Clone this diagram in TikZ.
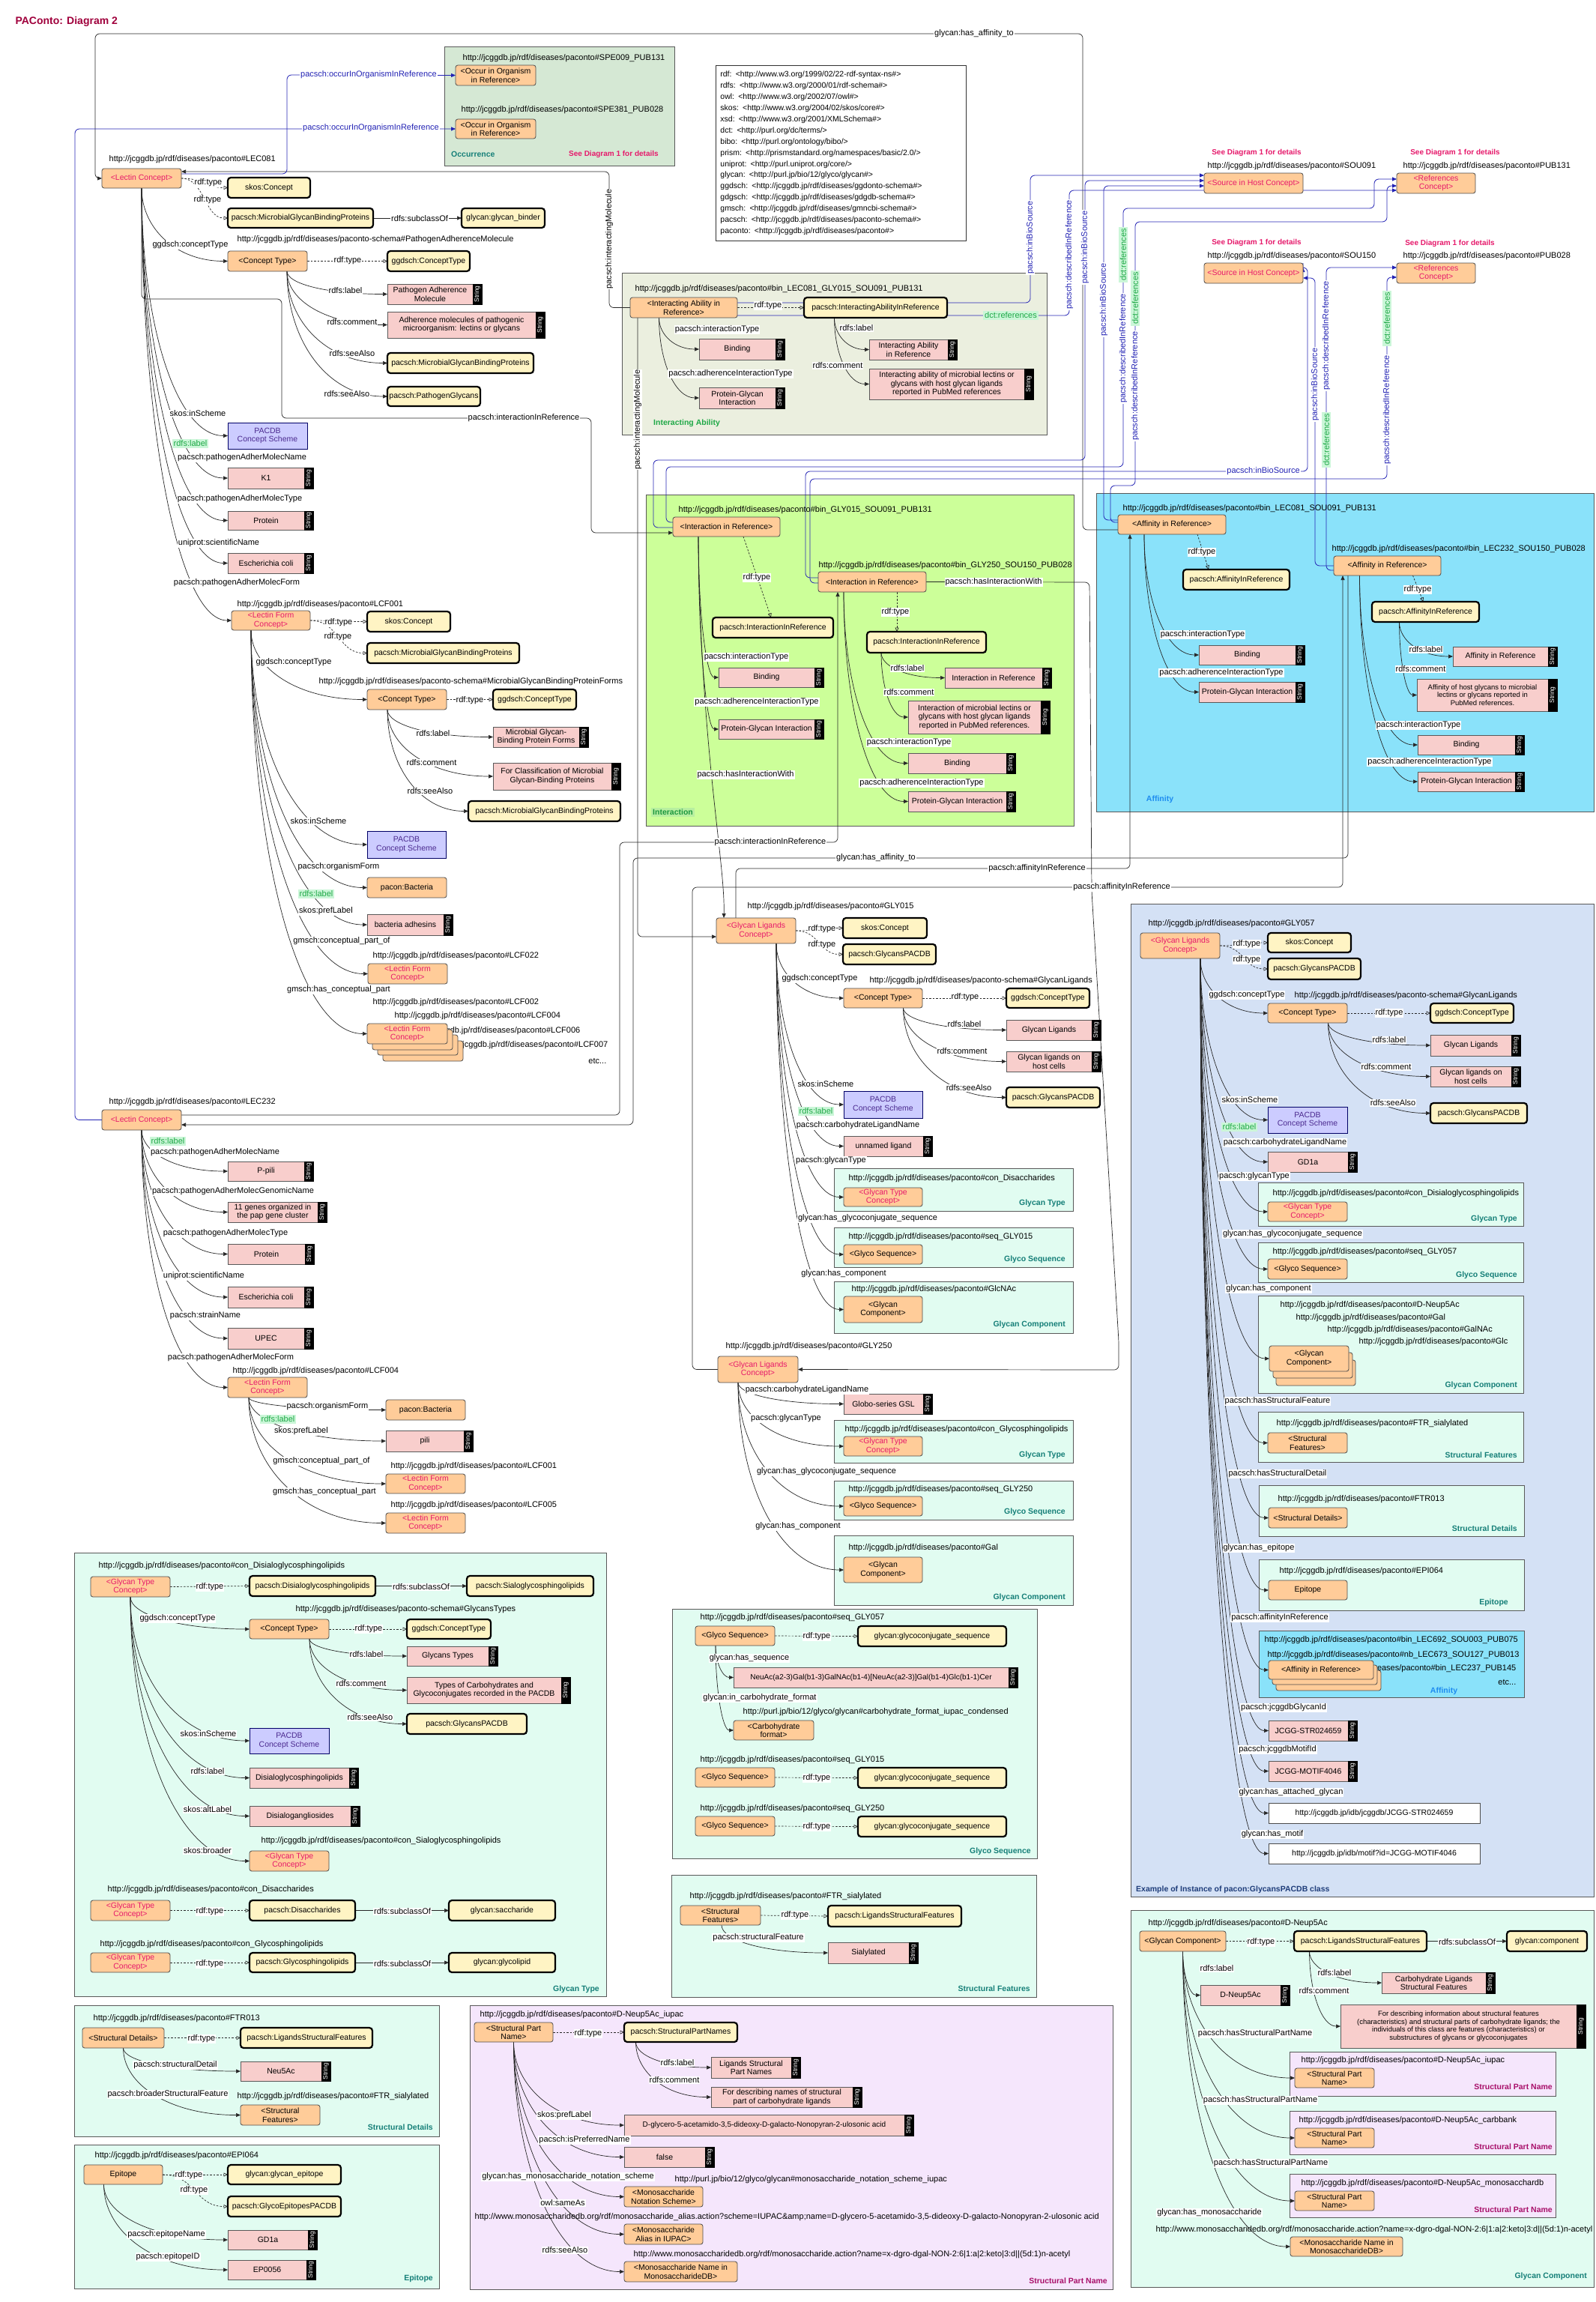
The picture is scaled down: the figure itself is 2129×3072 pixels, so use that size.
\documentclass[tikz,border=0pt]{standalone}
\usepackage{fontspec}
\setmainfont{Liberation Sans}
\usepackage{graphicx}
\usetikzlibrary{arrows.meta,calc}
\definecolor{orng}{HTML}{FFCC99}
\definecolor{ylw}{HTML}{FFF4C4}
\definecolor{pnk}{HTML}{F8CECC}
\definecolor{lav}{HTML}{CCCCFF}
\definecolor{schtxt}{HTML}{4B2A8F}
\definecolor{mint}{HTML}{E1FCF1}
\definecolor{occg}{HTML}{D5E8D4}
\definecolor{iag}{HTML}{EBEFDF}
\definecolor{intg}{HTML}{CCFF99}
\definecolor{inthl}{HTML}{B8EFA0}
\definecolor{affc}{HTML}{8AE2FA}
\definecolor{exb}{HTML}{D4E1F5}
\definecolor{spnc}{HTML}{F5E6FC}
\definecolor{crim}{HTML}{E6196B}
\definecolor{tealc}{HTML}{157F78}
\definecolor{bluel}{HTML}{2222B4}
\definecolor{grn}{HTML}{1EA846}
\definecolor{gfill}{HTML}{CBF6D8}
\definecolor{ttl}{HTML}{A0003C}
\definecolor{affl}{HTML}{1E8CF0}
\definecolor{exl}{HTML}{1F3D7A}
\definecolor{spnl}{HTML}{A8106A}
\pgfdeclarelayer{bg}
\pgfdeclarelayer{edges}
\pgfsetlayers{bg,edges,main}
\tikzset{
 bse/.style={font=\fontsize{10.5}{11.5}\selectfont, inner sep=0.5pt, align=center, outer sep=0pt},
 onode/.style={bse, draw=black!70, fill=orng, rounded corners=3pt, line width=0.8pt},
 onoder/.style={onode, text=crim},
 cls/.style={bse, draw=black, fill=ylw, rounded corners=4pt, line width=2.2pt},
 litb/.style={bse, draw=black!65, fill=pnk, line width=0.6pt},
 tabb/.style={draw=black, fill=black, text=white, inner sep=0pt, font=\fontsize{8.5}{9}\selectfont, line width=0.6pt},
 sch/.style={bse, draw=black!60!blue, fill=lav, text=schtxt, line width=0.8pt},
 wbox/.style={bse, draw=black!70, fill=white, line width=0.8pt},
 sm/.style={font=\fontsize{9.5}{10.5}\selectfont},
 reg/.style={draw=black!65, line width=0.9pt, inner sep=0pt},
 txt/.style={font=\fontsize{11}{12}\selectfont, inner sep=0.5pt},
 elab/.style={font=\fontsize{11}{12}\selectfont, fill=white, inner sep=1pt},
 glab/.style={fill=gfill, text=grn, inner sep=2pt},
 blab/.style={text=bluel},
 rlab/.style={font=\fontsize{10.5}{12}\selectfont\bfseries, inner sep=0pt},
 sdl/.style={font=\fontsize{10}{12}\selectfont\bfseries, inner sep=0pt, text=crim},
 edg/.style={draw=black!85, line width=0.7pt, -{Triangle[length=6pt,width=5pt]}},
 dsh/.style={draw=black!85, line width=0.7pt, dash pattern=on 2.5pt off 2pt, -{Triangle[open,length=5.5pt,width=5pt]}},
 bed/.style={draw=bluel, line width=0.8pt, rounded corners=6pt, -{Triangle[length=6pt,width=5pt]}},
 red/.style={edg, rounded corners=6pt},
}
\newcounter{lc}
\newcommand{\mybx}[7]{\node[#1,minimum width={(#5)-(#3)},minimum height={(#6)-(#4)}] (#2) at ({((#3)+(#5))/2},{((#4)+(#6))/2}) {#7};}
\newcommand{\mylit}[7][]{\mybx{litb,#1}{#2}{#3}{#4}{(#5)-12}{#6}{#7}\mybx{tabb}{#2t}{(#5)-12}{#4}{#5}{#6}{\rotatebox{90}{String}}}
\newcommand{\myurl}[3]{\stepcounter{lc}\node[txt,anchor=west] (url\arabic{lc}) at (#1,#2) {#3};}
\newcommand{\myurle}[3]{\stepcounter{lc}\node[txt,anchor=east] (url\arabic{lc}) at (#1,#2) {#3};}
\newcommand{\myel}[4][]{\stepcounter{lc}\node[elab,#1] (lab\arabic{lc}) at (#2,#3) {#4};}
\newcommand{\mytre}[3][]{\draw[edg,#1] let \p1=(#2), \p2=(#3) in (\p1) .. controls (\x1,{\y1+0.55*(\y2-(\y1))}) and ({\x2-0.6*(\x2-(\x1))},\y2) .. (\p2);}
\newcommand{\myscu}[3][]{\draw[dsh,#1] let \p1=(#2), \p2=(#3) in (\p1) .. controls ({\x1+0.5*(\x2-(\x1))},\y1) and ({\x1+0.5*(\x2-(\x1))},\y2) .. (\p2);}
\begin{document}
\begin{tikzpicture}[x=1pt,y=-1pt]
\useasboundingbox (0,0) rectangle (2129,3072);
\begin{pgfonlayer}{bg}
\fill[white] (0,0) rectangle (2129,3072);
\mybx{reg,fill=occg}{occbox}{593}{62}{900}{221}{}
\mybx{reg,fill=iag}{iabox}{830}{364}{1397}{580}{}
\mybx{reg,fill=intg}{intbox}{862}{660}{1433}{1102}{}
\mybx{reg,fill=affc}{affbox}{1463}{658}{2127}{1083}{}
\mybx{reg,fill=mint}{gtbox1}{1113}{1559}{1432}{1616}{}
\mybx{reg,fill=mint}{gsbox1}{1113}{1638}{1432}{1691}{}
\mybx{reg,fill=mint}{gcbox1}{1113}{1710}{1432}{1779}{}
\mybx{reg,fill=mint}{gtbox2}{1113}{1895}{1432}{1952}{}
\mybx{reg,fill=mint}{gsbox2}{1113}{1976}{1432}{2028}{}
\mybx{reg,fill=mint}{gcbox2}{1113}{2049}{1432}{2142}{}
\mybx{reg,fill=exb}{exbox}{1509}{1206}{2127}{2531}{}
\mybx{reg,fill=mint}{gtbox3}{1679}{1578}{2033}{1636}{}
\mybx{reg,fill=mint}{gsbox3}{1679}{1658}{2033}{1711}{}
\mybx{reg,fill=mint}{gcbox3}{1679}{1729}{2033}{1859}{}
\mybx{reg,fill=mint}{sfbox}{1679}{1884}{2033}{1951}{}
\mybx{reg,fill=mint}{sdbox}{1680}{1982}{2034}{2050}{}
\mybx{reg,fill=mint}{epbox}{1680}{2081}{2034}{2149}{}
\mybx{reg,fill=affc}{afbox}{1680}{2176}{2034}{2265}{}
\mybx{reg,fill=mint}{gcbig}{1509}{2549}{2127}{3052}{}
\mybx{reg,fill=spnc}{spnbox1}{1721}{2738}{2076}{2797}{}
\mybx{reg,fill=spnc}{spnbox2}{1721}{2817}{2076}{2875}{}
\mybx{reg,fill=spnc}{spnbox3}{1721}{2901}{2076}{2959}{}
\mybx{reg,fill=mint}{gtbig}{99}{2072}{809}{2664}{}
\mybx{reg,fill=mint}{sdbig}{99}{2676}{586}{2851}{}
\mybx{reg,fill=mint}{epbig}{99}{2862}{586}{3054}{}
\mybx{reg,fill=spnc}{spnbig}{627}{2676}{1485}{3055}{}
\mybx{reg,fill=mint}{gsbig}{897}{2147}{1384}{2480}{}
\mybx{reg,fill=mint}{sfbig}{896}{2502}{1383}{2665}{}
\end{pgfonlayer}

% ---------- title
\node[font=\fontsize{14}{16}\selectfont\bfseries, text=ttl, anchor=west] (title) at (17,29) {PAConto: Diagram 2};

% ---------- occurrence
\myurl{617}{78}{http://jcggdb.jp/rdf/diseases/paconto\#SPE009\_PUB131}
\mybx{onode}{occ1}{608}{87}{715}{114}{<Occur in Organism\\in Reference>}
\myurl{615}{147}{http://jcggdb.jp/rdf/diseases/paconto\#SPE381\_PUB028}
\mybx{onode}{occ2}{608}{159}{715}{185}{<Occur in Organism\\in Reference>}
\node[rlab,text=tealc,anchor=west] (occl) at (602,206) {Occurrence};
\node[sdl,anchor=west] (occs) at (759,206) {See Diagram 1 for details};

% ---------- namespaces
\node[draw=black!80, fill=white, line width=0.8pt, anchor=north west, align=left, font=\fontsize{10.5}{14.9}\selectfont, inner xsep=6pt, inner ysep=5pt, text width=322pt, minimum height=234pt] (ns) at (955,87) {rdf: <http://www.w3.org/1999/02/22-rdf-syntax-ns\#>\\
rdfs: <http://www.w3.org/2000/01/rdf-schema\#>\\
owl: <http://www.w3.org/2002/07/owl\#>\\
skos: <http://www.w3.org/2004/02/skos/core\#>\\
xsd: <http://www.w3.org/2001/XMLSchema\#>\\
dct: <http://purl.org/dc/terms/>\\
bibo: <http://purl.org/ontology/bibo/>\\
prism: <http://prismstandard.org/namespaces/basic/2.0/>\\
uniprot: <http://purl.uniprot.org/core/>\\
glycan: <http://purl.jp/bio/12/glyco/glycan\#>\\
ggdsch: <http://jcggdb.jp/rdf/diseases/ggdonto-schema\#>\\
gdgsch: <http://jcggdb.jp/rdf/diseases/gdgdb-schema\#>\\
gmsch: <http://jcggdb.jp/rdf/diseases/gmncbi-schema\#>\\
pacsch: <http://jcggdb.jp/rdf/diseases/paconto-schema\#>\\
paconto: <http://jcggdb.jp/rdf/diseases/paconto\#>};

% ---------- sources / references
\node[sdl] (sd1) at (1677,204) {See Diagram 1 for details};
\myurl{1611}{222}{http://jcggdb.jp/rdf/diseases/paconto\#SOU091}
\mybx{onoder}{src1}{1607}{231}{1739}{258}{<Source in Host Concept>}
\node[sdl] (sd2) at (1942,204) {See Diagram 1 for details};
\myurl{1872}{222}{http://jcggdb.jp/rdf/diseases/paconto\#PUB131}
\mybx{onoder}{ref1}{1864}{231}{1969}{258}{<References\\Concept>}
\node[sdl] (sd3) at (1677,324) {See Diagram 1 for details};
\myurl{1611}{342}{http://jcggdb.jp/rdf/diseases/paconto\#SOU150}
\mybx{onoder}{src2}{1607}{351}{1739}{378}{<Source in Host Concept>}
\node[sdl] (sd4) at (1935,325) {See Diagram 1 for details};
\myurl{1872}{342}{http://jcggdb.jp/rdf/diseases/paconto\#PUB028}
\mybx{onoder}{ref2}{1864}{351}{1969}{378}{<References\\Concept>}

% ---------- LEC081
\myurl{145}{213}{http://jcggdb.jp/rdf/diseases/paconto\#LEC081}
\mybx{onoder}{lec81}{136}{225}{242}{251}{<Lectin Concept>}
\mybx{cls}{sk1}{304}{237}{414}{264}{skos:Concept}
\mybx{cls}{mgbp1}{304}{278}{498}{304}{pacsch:MicrobialGlycanBindingProteins}
\mybx{cls}{gb}{616}{278}{727}{304}{glycan:glycan\_binder}
\myurl{316}{320}{http://jcggdb.jp/rdf/diseases/paconto-schema\#PathogenAdherenceMolecule}
\mybx{onode}{ct1}{304}{335}{410}{362}{<Concept Type>}
\mybx{cls}{cct1}{517}{335}{627}{362}{ggdsch:ConceptType}
\mylit{pam}{517}{379}{643}{406}{Pathogen Adherence\\Molecule}
\mylit{adm}{517}{416}{727}{451}{Adherence molecules of pathogenic\\microorganism: lectins or glycans}
\mybx{cls}{sa1}{517}{471}{712}{498}{pacsch:MicrobialGlycanBindingProteins}
\mybx{cls}{sa2}{517}{516}{641}{542}{pacsch:PathogenGlycans}
\mybx{sch}{ps1}{304}{564}{410}{599}{PACDB\\Concept Scheme}
\mylit{k1}{304}{624}{418}{652}{K1}
\mylit{prot1}{304}{682}{418}{707}{Protein}
\mylit{ec1}{304}{738}{418}{765}{Escherichia coli}
\myurl{316}{807}{http://jcggdb.jp/rdf/diseases/paconto\#LCF001}
\mybx{onoder}{lcf1}{309}{815}{414}{841}{<Lectin Form\\Concept>}
\mybx{cls}{sk2}{490}{816}{601}{843}{skos:Concept}
\mybx{cls}{mgbp2}{490}{858}{693}{885}{pacsch:MicrobialGlycanBindingProteins}
\myurl{425}{910}{http://jcggdb.jp/rdf/diseases/paconto-schema\#MicrobialGlycanBindingProteinForms}
\mybx{onode}{ct2}{490}{920}{596}{947}{<Concept Type>}
\mybx{cls}{cct2}{658}{920}{769}{947}{ggdsch:ConceptType}
\mylit{mgf}{658}{970}{785}{997}{Microbial Glycan-\\Binding Protein Forms}
\mylit{fcm}{658}{1018}{828}{1054}{For Classification of Microbial\\Glycan-Binding Proteins}
\mybx{cls}{sa3}{625}{1069}{828}{1096}{pacsch:MicrobialGlycanBindingProteins}
\mybx{sch}{ps2}{490}{1109}{595}{1145}{PACDB\\Concept Scheme}
\mybx{onode}{bac1}{490}{1171}{596}{1198}{pacon:Bacteria}
\mylit{ba}{490}{1220}{604}{1248}{bacteria adhesins}
\myurl{497}{1276}{http://jcggdb.jp/rdf/diseases/paconto\#LCF022}
\mybx{onoder}{lcf22}{491}{1286}{597}{1313}{<Lectin Form\\Concept>}
\myurl{497}{1338}{http://jcggdb.jp/rdf/diseases/paconto\#LCF002}
\myurl{526}{1356}{http://jcggdb.jp/rdf/diseases/paconto\#LCF004}
\myurle{775}{1376}{http://jcggdb.jp/rdf/diseases/paconto\#LCF006}
\myurle{812}{1395}{http://jcggdb.jp/rdf/diseases/paconto\#LCF007}
\myurle{810}{1416}{etc...}
\mybx{onoder}{lcfsb3}{511}{1389}{618}{1416}{}
\mybx{onoder}{lcfsb2}{504}{1381}{611}{1408}{}
\mybx{onoder}{lcfsb1}{497}{1374}{604}{1401}{}
\mybx{onoder}{lcfs}{490}{1366}{597}{1393}{<Lectin Form\\Concept>}

% ---------- LEC232
\myurl{145}{1471}{http://jcggdb.jp/rdf/diseases/paconto\#LEC232}
\mybx{onoder}{lec232}{136}{1481}{242}{1508}{<Lectin Concept>}
\mylit{pp}{304}{1550}{418}{1576}{P-pili}
\mylit{g11}{304}{1604}{436}{1631}{11 genes organized in\\the pap gene cluster}
\mylit{prot2}{304}{1660}{419}{1687}{Protein}
\mylit{ec2}{304}{1717}{418}{1745}{Escherichia coli}
\mylit{upec}{304}{1772}{418}{1800}{UPEC}
\myurl{310}{1830}{http://jcggdb.jp/rdf/diseases/paconto\#LCF004}
\mybx{onoder}{lcf4}{304}{1838}{410}{1865}{<Lectin Form\\Concept>}
\mybx{onode}{bac2}{515}{1868}{621}{1895}{pacon:Bacteria}
\mylit{pili}{515}{1909}{631}{1937}{pili}
\myurl{521}{1957}{http://jcggdb.jp/rdf/diseases/paconto\#LCF001}
\mybx{onoder}{lcf1b}{515}{1967}{621}{1993}{<Lectin Form\\Concept>}
\myurl{521}{2009}{http://jcggdb.jp/rdf/diseases/paconto\#LCF005}
\mybx{onoder}{lcf5}{515}{2019}{621}{2046}{<Lectin Form\\Concept>}

% ---------- Interacting ability
\myurl{847}{386}{http://jcggdb.jp/rdf/diseases/paconto\#bin\_LEC081\_GLY015\_SOU091\_PUB131}
\mybx{onode}{ia}{841}{397}{984}{424}{<Interacting Ability in\\Reference>}
\mybx{cls}{iaref}{1073}{397}{1264}{424}{pacsch:InteractingAbilityInReference}
\mylit{bind1}{933}{452}{1047}{480}{Binding}
\mylit{pg1}{933}{517}{1047}{545}{Protein-Glycan\\Interaction}
\mylit{iat1}{1160}{453}{1277}{480}{Interacting Ability\\in Reference}
\mylit{iac}{1160}{492}{1379}{533}{Interacting ability of microbial lectins or\\glycans with host glycan ligands\\reported in PubMed references}
\node[rlab,text=grn,anchor=west] (ial) at (872,565) {Interacting Ability};

% ---------- Interaction
\myurl{905}{681}{http://jcggdb.jp/rdf/diseases/paconto\#bin\_GLY015\_SOU091\_PUB131}
\mybx{onode}{int1}{898}{690}{1041}{716}{<Interaction in Reference>}
\mybx{cls}{iir1}{951}{824}{1112}{851}{pacsch:InteractionInReference}
\mylit{bind2}{959}{891}{1099}{917}{Binding}
\mylit{pg2}{959}{960}{1099}{986}{Protein-Glycan Interaction}
\myurl{1092}{755}{http://jcggdb.jp/rdf/diseases/paconto\#bin\_GLY250\_SOU150\_PUB028}
\mybx{onode}{int2}{1092}{763}{1236}{790}{<Interaction in Reference>}
\mybx{cls}{iir2}{1157}{843}{1316}{871}{pacsch:InteractionInReference}
\mylit{int3}{1261}{891}{1403}{918}{Interaction in Reference}
\mylit{intc}{1212}{935}{1401}{979}{Interaction of microbial lectins or\\glycans with host glycan ligands\\reported in PubMed references.}
\mylit{bind3}{1212}{1005}{1355}{1032}{Binding}
\mylit{pg3}{1212}{1056}{1355}{1083}{Protein-Glycan Interaction}
\node[rlab,text=grn!90!black,anchor=west,fill=inthl,inner sep=2pt] (intl) at (869,1084) {Interaction};

% ---------- Affinity
\myurl{1498}{679}{http://jcggdb.jp/rdf/diseases/paconto\#bin\_LEC081\_SOU091\_PUB131}
\mybx{onode}{aff1}{1492}{687}{1636}{713}{<Affinity in Reference>}
\mybx{cls}{air1}{1579}{760}{1721}{787}{pacsch:AffinityInReference}
\mylit{bind4}{1600}{861}{1741}{887}{Binding}
\mylit{pg4}{1600}{910}{1741}{937}{Protein-Glycan Interaction}
\myurl{1777}{733}{http://jcggdb.jp/rdf/diseases/paconto\#bin\_LEC232\_SOU150\_PUB028}
\mybx{onode}{aff2}{1780}{742}{1923}{768}{<Affinity in Reference>}
\mybx{cls}{air2}{1831}{803}{1974}{830}{pacsch:AffinityInReference}
\mylit{air3}{1939}{863}{2078}{889}{Affinity in Reference}
\mylit[sm]{airc}{1891}{906}{2078}{949}{Affinity of host glycans to microbial\\lectins or glycans reported in\\PubMed references.}
\mylit{bind5}{1892}{981}{2034}{1007}{Binding}
\mylit{pg5}{1892}{1030}{2034}{1056}{Protein-Glycan Interaction}
\node[rlab,text=affl] (affl) at (1548,1067) {Affinity};

% ---------- GLY015
\myurl{997}{1210}{http://jcggdb.jp/rdf/diseases/paconto\#GLY015}
\mybx{onoder}{gly15}{956}{1225}{1062}{1259}{<Glycan Ligands\\Concept>}
\mybx{cls}{sk3}{1125}{1225}{1237}{1252}{skos:Concept}
\mybx{cls}{gp1}{1125}{1260}{1249}{1287}{pacsch:GlycansPACDB}
\myurl{1160}{1309}{http://jcggdb.jp/rdf/diseases/paconto-schema\#GlycanLigands}
\mybx{onode}{ct3}{1126}{1319}{1231}{1345}{<Concept Type>}
\mybx{cls}{cct3}{1343}{1319}{1454}{1345}{ggdsch:ConceptType}
\mylit{gl1}{1343}{1361}{1469}{1388}{Glycan Ligands}
\mylit{gl2}{1343}{1403}{1469}{1430}{Glycan ligands on\\host cells}
\mybx{cls}{gp2}{1343}{1451}{1468}{1478}{pacsch:GlycansPACDB}
\mybx{sch}{ps3}{1126}{1456}{1231}{1492}{PACDB\\Concept Scheme}
\mylit{ul}{1126}{1516}{1244}{1543}{unnamed ligand}
\myurl{1132}{1573}{http://jcggdb.jp/rdf/diseases/paconto\#con\_Disaccharides}
\mybx{onoder}{gt1}{1126}{1585}{1231}{1610}{<Glycan Type\\Concept>}
\node[rlab,text=tealc,anchor=east] (gtl1) at (1422,1606) {Glycan Type};
\myurl{1132}{1651}{http://jcggdb.jp/rdf/diseases/paconto\#seq\_GLY015}
\mybx{onode}{gs1}{1126}{1661}{1231}{1687}{<Glyco Sequence>}
\node[rlab,text=tealc,anchor=east] (gsl1) at (1422,1681) {Glyco Sequence};
\myurl{1136}{1721}{http://jcggdb.jp/rdf/diseases/paconto\#GlcNAc}
\mybx{onode}{gc1}{1126}{1730}{1231}{1765}{<Glycan\\Component>}
\node[rlab,text=tealc,anchor=east] (gcl1) at (1422,1768) {Glycan Component};

% ---------- GLY250
\myurl{968}{1797}{http://jcggdb.jp/rdf/diseases/paconto\#GLY250}
\mybx{onoder}{gly250}{958}{1810}{1065}{1845}{<Glycan Ligands\\Concept>}
\mylit{ggsl}{1126}{1860}{1244}{1887}{Globo-series GSL}
\myurl{1127}{1908}{http://jcggdb.jp/rdf/diseases/paconto\#con\_Glycosphingolipids}
\mybx{onoder}{gt2}{1126}{1917}{1231}{1943}{<Glycan Type\\Concept>}
\node[rlab,text=tealc,anchor=east] (gtl2) at (1422,1942) {Glycan Type};
\myurl{1132}{1988}{http://jcggdb.jp/rdf/diseases/paconto\#seq\_GLY250}
\mybx{onode}{gs2}{1126}{1997}{1231}{2023}{<Glyco Sequence>}
\node[rlab,text=tealc,anchor=east] (gsl2) at (1422,2018) {Glyco Sequence};
\myurl{1132}{2066}{http://jcggdb.jp/rdf/diseases/paconto\#Gal}
\mybx{onode}{gc2}{1126}{2078}{1231}{2112}{<Glycan\\Component>}
\node[rlab,text=tealc,anchor=east] (gcl2) at (1422,2132) {Glycan Component};

% ---------- GLY057 example
\myurl{1532}{1233}{http://jcggdb.jp/rdf/diseases/paconto\#GLY057}
\mybx{onoder}{gly57}{1522}{1245}{1628}{1279}{<Glycan Ligands\\Concept>}
\mybx{cls}{sk4}{1692}{1245}{1803}{1271}{skos:Concept}
\mybx{cls}{gp3}{1692}{1279}{1816}{1307}{pacsch:GlycansPACDB}
\myurl{1727}{1329}{http://jcggdb.jp/rdf/diseases/paconto-schema\#GlycanLigands}
\mybx{onode}{ct4}{1692}{1339}{1798}{1365}{<Concept Type>}
\mybx{cls}{cct4}{1909}{1339}{2020}{1365}{ggdsch:ConceptType}
\mylit{gl3}{1909}{1381}{2029}{1409}{Glycan Ligands}
\mylit{gl4}{1909}{1423}{2029}{1450}{Glycan ligands on\\host cells}
\mybx{cls}{gp4}{1909}{1472}{2038}{1499}{pacsch:GlycansPACDB}
\mybx{sch}{ps4}{1692}{1477}{1798}{1512}{PACDB\\Concept Scheme}
\mylit{gd1}{1692}{1537}{1811}{1564}{GD1a}
\myurl{1698}{1593}{http://jcggdb.jp/rdf/diseases/paconto\#con\_Disialoglycosphingolipids}
\mybx{onoder}{gt3}{1692}{1604}{1798}{1630}{<Glycan Type\\Concept>}
\node[rlab,text=tealc,anchor=east] (gtl3) at (2025,1627) {Glycan Type};
\myurl{1698}{1671}{http://jcggdb.jp/rdf/diseases/paconto\#seq\_GLY057}
\mybx{onode}{gs3}{1692}{1680}{1798}{1707}{<Glyco Sequence>}
\node[rlab,text=tealc,anchor=east] (gsl3) at (2025,1702) {Glyco Sequence};
\myurl{1708}{1742}{http://jcggdb.jp/rdf/diseases/paconto\#D-Neup5Ac}
\myurl{1729}{1759}{http://jcggdb.jp/rdf/diseases/paconto\#Gal}
\myurl{1771}{1775}{http://jcggdb.jp/rdf/diseases/paconto\#GalNAc}
\myurl{1813}{1791}{http://jcggdb.jp/rdf/diseases/paconto\#Glc}
\mybx{onode}{gc3b2}{1703}{1815}{1809}{1849}{}
\mybx{onode}{gc3b1}{1699}{1805}{1805}{1839}{}
\mybx{onode}{gc3}{1694}{1796}{1800}{1830}{<Glycan\\Component>}
\node[rlab,text=tealc,anchor=east] (gcl3) at (2025,1849) {Glycan Component};
\myurl{1703}{1900}{http://jcggdb.jp/rdf/diseases/paconto\#FTR\_sialylated}
\mybx{onode}{sf1}{1692}{1912}{1798}{1939}{<Structural\\Features>}
\node[rlab,text=tealc,anchor=east] (sfl1) at (2025,1942) {Structural Features};
\myurl{1705}{2001}{http://jcggdb.jp/rdf/diseases/paconto\#FTR013}
\mybx{onode}{sd1}{1693}{2012}{1798}{2039}{<Structural Details>}
\node[rlab,text=tealc,anchor=east] (sdl1) at (2025,2040) {Structural Details};
\myurl{1707}{2097}{http://jcggdb.jp/rdf/diseases/paconto\#EPI064}
\mybx{onode}{ep1}{1693}{2109}{1798}{2135}{Epitope}
\node[rlab,text=tealc,anchor=east] (epl1) at (2013,2139) {Epitope};
\myurl{1687}{2189}{http://jcggdb.jp/rdf/diseases/paconto\#bin\_LEC692\_SOU003\_PUB075}
\myurl{1691}{2209}{http://jcggdb.jp/rdf/diseases/paconto\#nb\_LEC673\_SOU127\_PUB013}
\myurle{2024}{2227}{http://jcggdb.jp/rdf/diseases/paconto\#bin\_LEC237\_PUB145}
\myurle{2024}{2245}{etc...}
\mybx{onode}{afb2}{1703}{2229}{1843}{2256}{}
\mybx{onode}{afb1}{1698}{2222}{1838}{2248}{}
\mybx{onode}{af1}{1693}{2216}{1833}{2241}{<Affinity in Reference>}
\node[rlab,text=affl] (afl1) at (1927,2257) {Affinity};
\mylit{jid}{1693}{2296}{1811}{2323}{JCGG-STR024659}
\mylit{mid}{1693}{2350}{1811}{2377}{JCGG-MOTIF4046}
\mybx{wbox}{att}{1693}{2406}{1975}{2433}{http://jcggdb.jp/idb/jcggdb/JCGG-STR024659}
\mybx{wbox}{mot}{1693}{2460}{1975}{2487}{http://jcggdb.jp/idb/motif?id=JCGG-MOTIF4046}
\node[rlab,text=exl,anchor=west] (exl) at (1516,2522) {Example of Instance of pacon:GlycansPACDB class};

% ---------- Glycan component D-Neup5Ac
\myurl{1532}{2567}{http://jcggdb.jp/rdf/diseases/paconto\#D-Neup5Ac}
\mybx{onode}{gc4}{1521}{2577}{1636}{2604}{<Glycan Component>}
\mybx{cls}{lsf1}{1727}{2577}{1904}{2604}{pacsch:LigandsStructuralFeatures}
\mybx{cls}{gcomp}{2011}{2577}{2118}{2604}{glycan:component}
\mylit{dn}{1602}{2649}{1721}{2676}{D-Neup5Ac}
\mylit{csf}{1844}{2632}{1995}{2660}{Carbohydrate Ligands\\Structural Features}
\mylit[sm]{cmt}{1789}{2675}{2116}{2733}{For describing information about structural features\\(characteristics) and structural parts of carbohydrate ligands; the\\individuals of this class are features (characteristics) or\\substructures of glycans or glycoconjugates}
\myurl{1736}{2750}{http://jcggdb.jp/rdf/diseases/paconto\#D-Neup5Ac\_iupac}
\mybx{onode}{spn1}{1728}{2760}{1834}{2786}{<Structural Part\\Name>}
\node[rlab,text=spnl,anchor=east] (spl1) at (2072,2785) {Structural Part Name};
\myurl{1733}{2830}{http://jcggdb.jp/rdf/diseases/paconto\#D-Neup5Ac\_carbbank}
\mybx{onode}{spn2}{1728}{2840}{1834}{2866}{<Structural Part\\Name>}
\node[rlab,text=spnl,anchor=east] (spl2) at (2072,2865) {Structural Part Name};
\myurl{1736}{2914}{http://jcggdb.jp/rdf/diseases/paconto\#D-Neup5Ac\_monosacchardb}
\mybx{onode}{spn3}{1728}{2924}{1834}{2950}{<Structural Part\\Name>}
\node[rlab,text=spnl,anchor=east] (spl3) at (2072,2949) {Structural Part Name};
\myurl{1542}{2976}{http://www.monosaccharidedb.org/rdf/monosaccharide.action?name=x-dgro-dgal-NON-2:6|1:a|2:keto|3:d||(5d:1)n-acetyl}
\mybx{onode}{mdb}{1722}{2985}{1872}{3011}{<Monosaccharide Name in\\MonosaccharideDB>}
\node[rlab,text=tealc,anchor=east] (gcl4) at (2118,3038) {Glycan Component};

% ---------- Glycan type big
\myurl{131}{2090}{http://jcggdb.jp/rdf/diseases/paconto\#con\_Disialoglycosphingolipids}
\mybx{onoder}{gt4}{121}{2104}{227}{2131}{<Glycan Type\\Concept>}
\mybx{cls}{dsp}{333}{2103}{501}{2130}{pacsch:Disialoglycosphingolipids}
\mybx{cls}{ssp}{623}{2103}{792}{2130}{pacsch:Sialoglycosphingolipids}
\myurl{394}{2148}{http://jcggdb.jp/rdf/diseases/paconto-schema\#GlycansTypes}
\mybx{onode}{ct5}{333}{2161}{439}{2187}{<Concept Type>}
\mybx{cls}{cct5}{543}{2161}{655}{2187}{ggdsch:ConceptType}
\mylit{gtl}{543}{2197}{664}{2223}{Glycans Types}
\mylit{gtc}{543}{2238}{761}{2273}{Types of Carbohydrates and\\Glycoconjugates recorded in the PACDB}
\mybx{cls}{gp5}{543}{2287}{703}{2314}{pacsch:GlycansPACDB}
\mybx{sch}{ps5}{333}{2306}{439}{2340}{PACDB\\Concept Scheme}
\mylit{dsl}{333}{2359}{478}{2386}{Disialoglycosphingolipids}
\mylit{dgl}{333}{2410}{480}{2437}{Disialogangliosides}
\myurl{348}{2457}{http://jcggdb.jp/rdf/diseases/paconto\#con\_Sialoglycosphingolipids}
\mybx{onoder}{gt5}{333}{2470}{439}{2497}{<Glycan Type\\Concept>}
\myurl{143}{2522}{http://jcggdb.jp/rdf/diseases/paconto\#con\_Disaccharides}
\mybx{onoder}{gt6}{121}{2536}{227}{2563}{<Glycan Type\\Concept>}
\mybx{cls}{dis}{333}{2536}{474}{2563}{pacsch:Disaccharides}
\mybx{cls}{sac}{599}{2536}{741}{2563}{glycan:saccharide}
\myurl{133}{2595}{http://jcggdb.jp/rdf/diseases/paconto\#con\_Glycosphingolipids}
\mybx{onoder}{gt7}{121}{2606}{227}{2632}{<Glycan Type\\Concept>}
\mybx{cls}{gsl}{333}{2606}{474}{2632}{pacsch:Glycosphingolipids}
\mybx{cls}{gli}{599}{2606}{741}{2632}{glycan:glycolipid}
\node[rlab,text=tealc,anchor=east] (gtlb) at (800,2655) {Glycan Type};

% ---------- Structural details
\myurl{124}{2694}{http://jcggdb.jp/rdf/diseases/paconto\#FTR013}
\mybx{onode}{sd2}{110}{2706}{219}{2733}{<Structural Details>}
\mybx{cls}{lsf2}{321}{2706}{497}{2733}{pacsch:LigandsStructuralFeatures}
\mylit{neu}{321}{2751}{441}{2777}{Neu5Ac}
\myurl{316}{2798}{http://jcggdb.jp/rdf/diseases/paconto\#FTR\_sialylated}
\mybx{onode}{sf2}{321}{2809}{427}{2836}{<Structural\\Features>}
\node[rlab,text=tealc,anchor=east] (sdlb) at (578,2839) {Structural Details};

% ---------- Epitope
\myurl{126}{2877}{http://jcggdb.jp/rdf/diseases/paconto\#EPI064}
\mybx{onode}{ep2}{112}{2889}{217}{2915}{Epitope}
\mybx{cls}{gep}{304}{2889}{455}{2915}{glycan:glycan\_epitope}
\mybx{cls}{gepp}{304}{2931}{455}{2958}{pacsch:GlycoEpitopesPACDB}
\mylit{gd2}{304}{2976}{423}{3002}{GD1a}
\mylit{epid}{304}{3016}{421}{3042}{EP0056}
\node[rlab,text=tealc,anchor=east] (eplb) at (578,3041) {Epitope};

% ---------- Structural part name
\myurl{640}{2689}{http://jcggdb.jp/rdf/diseases/paconto\#D-Neup5Ac\_iupac}
\mybx{onode}{spn4}{633}{2699}{738}{2725}{<Structural Part\\Name>}
\mybx{cls}{spns}{833}{2699}{984}{2725}{pacsch:StructuralPartNames}
\mylit{lspn}{949}{2745}{1068}{2773}{Ligands Structural\\Part Names}
\mylit{cspn}{949}{2785}{1150}{2812}{For describing names of structural\\part of carbohydrate ligands}
\mylit[font=\fontsize{10}{11}\selectfont]{pref}{833}{2822}{1219}{2850}{D-glycero-5-acetamido-3,5-dideoxy-D-galacto-Nonopyran-2-ulosonic acid}
\mylit{ispref}{833}{2865}{953}{2892}{false}
\myurl{900}{2909}{http://purl.jp/bio/12/glyco/glycan\#monosaccharide\_notation\_scheme\_iupac}
\mybx{onode}{mns}{833}{2918}{938}{2945}{<Monosaccharide\\Notation Scheme>}
\myurl{633}{2959}{http://www.monosaccharidedb.org/rdf/monosaccharide\_alias.action?scheme=IUPAC\&amp;name=D-glycero-5-acetamido-3,5-dideoxy-D-galacto-Nonopyran-2-ulosonic acid}
\mybx{onode}{mal}{833}{2968}{938}{2995}{<Monosaccharide\\Alias in IUPAC>}
\myurl{845}{3009}{http://www.monosaccharidedb.org/rdf/monosaccharide.action?name=x-dgro-dgal-NON-2:6|1:a|2:keto|3:d||(5d:1)n-acetyl}
\mybx{onode}{mdb2}{833}{3018}{984}{3045}{<Monosaccharide Name in\\MonosaccharideDB>}
\node[rlab,text=spnl,anchor=east] (spnlb) at (1478,3044) {Structural Part Name};

% ---------- Glyco sequence big
\myurl{934}{2159}{http://jcggdb.jp/rdf/diseases/paconto\#seq\_GLY057}
\mybx{onode}{gs4}{928}{2170}{1034}{2196}{<Glyco Sequence>}
\mybx{cls}{gcs1}{1145}{2170}{1343}{2197}{glycan:glycoconjugate\_sequence}
\mylit[font=\fontsize{10}{11}\selectfont]{seq}{979}{2225}{1358}{2252}{NeuAc(a2-3)Gal(b1-3)GalNAc(b1-4)[NeuAc(a2-3)]Gal(b1-4)Glc(b1-1)Cer}
\myurl{991}{2285}{http://purl.jp/bio/12/glyco/glycan\#carbohydrate\_format\_iupac\_condensed}
\mybx{onode}{cf}{979}{2296}{1086}{2322}{<Carbohydrate\\format>}
\myurl{934}{2349}{http://jcggdb.jp/rdf/diseases/paconto\#seq\_GLY015}
\mybx{onode}{gs5}{928}{2359}{1034}{2385}{<Glyco Sequence>}
\mybx{cls}{gcs2}{1145}{2359}{1343}{2386}{glycan:glycoconjugate\_sequence}
\myurl{934}{2414}{http://jcggdb.jp/rdf/diseases/paconto\#seq\_GLY250}
\mybx{onode}{gs6}{928}{2424}{1034}{2450}{<Glyco Sequence>}
\mybx{cls}{gcs3}{1145}{2424}{1343}{2451}{glycan:glycoconjugate\_sequence}
\node[rlab,text=tealc,anchor=east] (gslb) at (1376,2471) {Glyco Sequence};

% ---------- Structural features big
\myurl{920}{2531}{http://jcggdb.jp/rdf/diseases/paconto\#FTR\_sialylated}
\mybx{onode}{sf3}{908}{2543}{1015}{2569}{<Structural\\Features>}
\mybx{cls}{lsf3}{1105}{2543}{1283}{2571}{pacsch:LigandsStructuralFeatures}
\mylit{sfs}{1105}{2592}{1225}{2620}{Sialylated}
\node[rlab,text=tealc,anchor=east] (sflb) at (1375,2654) {Structural Features};

% =================== EDGES
\begin{pgfonlayer}{edges}
% LEC081
\myscu{lec81.east}{sk1.west}
\myscu{lec81.east}{mgbp1.west}
\draw[edg] (mgbp1.east) -- (gb.west);
\mytre{lec81.south}{ct1.west}
\draw[dsh] (ct1.east) -- (cct1.west);
\mytre{[xshift=26pt]ct1.south}{pam.west}
\mytre{[xshift=26pt]ct1.south}{adm.west}
\mytre{[xshift=26pt]ct1.south}{sa1.west}
\mytre{[xshift=26pt]ct1.south}{sa2.west}
\mytre{lec81.south}{ps1.west}
\mytre{lec81.south}{k1.west}
\mytre{lec81.south}{prot1.west}
\mytre{lec81.south}{ec1.west}
\mytre{lec81.south}{lcf1.west}
\myscu{lcf1.east}{sk2.west}
\myscu{lcf1.east}{mgbp2.west}
\mytre{[xshift=-26.5pt]lcf1.south}{ct2.west}
\draw[dsh] (ct2.east) -- (cct2.west);
\mytre{[xshift=-26pt]ct2.south}{mgf.west}
\mytre{[xshift=-26pt]ct2.south}{fcm.west}
\mytre{[xshift=-26pt]ct2.south}{sa3.west}
\mytre{[xshift=-26.5pt]lcf1.south}{ps2.west}
\mytre{[xshift=-26.5pt]lcf1.south}{bac1.west}
\mytre{[xshift=-26.5pt]lcf1.south}{ba.west}
\mytre{[xshift=-26.5pt]lcf1.south}{lcf22.west}
\mytre{[xshift=-26.5pt]lcf1.south}{lcfs.west}
% LEC232
\mytre{lec232.south}{pp.west}
\mytre{lec232.south}{g11.west}
\mytre{lec232.south}{prot2.west}
\mytre{lec232.south}{ec2.west}
\mytre{lec232.south}{upec.west}
\mytre{lec232.south}{lcf4.west}
\mytre{[xshift=-25pt]lcf4.south}{bac2.west}
\mytre{[xshift=-25pt]lcf4.south}{pili.west}
\mytre{[xshift=-25pt]lcf4.south}{lcf1b.west}
\mytre{[xshift=-25pt]lcf4.south}{lcf5.west}
% routed black
\draw[red] ([yshift=-7pt]aff1.west) -- (1445,707) -- (1445,45) -- (127,45) -- (127,238) -- (lec81.west);
\draw[red] (ia.west) -| (813,229) -- ([yshift=9pt]lec81.east);
\draw[red] ([xshift=10pt]ia.south west) -- (851,1250) -- ([yshift=-8pt]gly15.west);
\draw[red] (lec81.south) -- (189,399) -- (376,399) -- (376,558) -- (789,558) -- (789,711) -- ([yshift=-8pt]int1.west);
\draw[red] ([yshift=6.5pt]lec232.east) -- (827,1488) -- (827,1124) -- (1118,1124) -- ([xshift=-46pt]int2.south);
\draw[edg] ([xshift=-37.5pt]int1.south) .. controls (935,1000) and (968,1150) .. ([xshift=10pt]gly15.north west);
\draw[red] (int2.east) -- (1454,777) -- (1457,1190) -- (1493,1790) -- (1493,1828) -- (gly250.east);
\draw[red] ([xshift=-27pt]gly15.north) -- (982,1159) -- (1508,1159) -- ([xshift=-56pt]aff1.south);
\draw[red] (gly250.west) -- (924,1827.5) -- (924,1184) -- (1792,1184) -- ([xshift=-59.5pt]aff2.south);
\draw[red] ([xshift=-52.5pt]aff2.south) -- (1799,1145) -- (845,1145) -- (845,1501) -- ([yshift=-6.5pt]lec232.east);
% blue
\draw[bed] ([yshift=6pt]lec81.east) -| (383,100) -- (occ1.west);
\draw[bed] (lec232.west) -| (100,172) -- (occ2.west);
\draw[bed] ([yshift=6.5pt]ia.east) -- (1375,404) -- (1375,234) -- ([yshift=10.5pt]src1.west);
\draw[bed] ([yshift=-10.5pt]ia.east) -- (1427,421) -- (1427,254) -- ([yshift=-9.5pt]ref1.west);
\draw[bed] ([yshift=-1pt]int1.west) -- (872,704) -- (872,614) -- (1448,614) -- (1448,241) -- ([yshift=3.5pt]src1.west);
\draw[bed] ([yshift=6pt]int1.west) -- (889,697) -- (889,623) -- (1499,623) -- (1499,278) -- (1834,278) -- (1834,239) -- ([yshift=5.5pt]ref1.west);
\draw[bed] ([yshift=6pt]aff1.west) -- (1473,694) -- (1473,248) -- ([yshift=-3.5pt]src1.west);
\draw[bed] ([yshift=3pt]aff1.west) -- (1482,697) -- (1482,648) -- (1515,648) -- (1515,296) -- (1851,296) -- (1851,248) -- ([yshift=-3.5pt]ref1.west);
\draw[bed] ([yshift=5.5pt]int2.west) -- (1075,771) -- (1075,629) -- (1745,629) -- (1745,357) -- ([yshift=7.5pt]src2.east);
\draw[bed] ([yshift=-1.5pt]int2.west) -- (1081,778) -- (1081,639) -- (1851,639) -- (1851,370) -- ([yshift=-5.5pt]ref2.west);
\draw[bed] (aff2.west) -- (1755,755) -- (1755,371) -- ([yshift=-6.5pt]src2.east);
\draw[bed] ([yshift=-6pt]aff2.west) -- (1770,761) -- (1770,357) -- ([yshift=7.5pt]ref2.west);
% interacting ability
\draw[dsh] (ia.east) -- (iaref.west);
\mytre{[xshift=-33pt]ia.south}{bind1.west}
\mytre{[xshift=-33pt]ia.south}{pg1.west}
\mytre{[xshift=-55pt]iaref.south}{iat1.west}
\mytre{[xshift=-55pt]iaref.south}{iac.west}
% interaction
\draw[dsh] ([xshift=22.5pt]int1.south) -- ([xshift=-2.5pt]iir1.north);
\mytre{[xshift=-37.5pt]int1.south}{bind2.west}
\mytre{[xshift=-37.5pt]int1.south}{pg2.west}
\draw[dsh] ([xshift=33pt]int2.south) -- ([xshift=-39.5pt]iir2.north);
\mytre{[xshift=-60.5pt]iir2.south}{int3.west}
\mytre{[xshift=-60.5pt]iir2.south}{intc.west}
\mytre{[xshift=-38pt]int2.south}{bind3.west}
\mytre{[xshift=-38pt]int2.south}{pg3.west}
% affinity
\draw[dsh] ([xshift=34pt]aff1.south) -- ([xshift=-37pt]air1.north);
\mytre{[xshift=-37pt]aff1.south}{bind4.west}
\mytre{[xshift=-37pt]aff1.south}{pg4.west}
\draw[dsh] ([xshift=34pt]aff2.south) -- ([xshift=-3pt]air2.north);
\mytre{[xshift=-35pt]air2.south}{air3.west}
\mytre{[xshift=-35pt]air2.south}{airc.west}
\mytre{[xshift=-37pt]aff2.south}{bind5.west}
\mytre{[xshift=-37pt]aff2.south}{pg5.west}
% GLY015
\myscu{gly15.east}{sk3.west}
\myscu{gly15.east}{gp1.west}
\mytre{[xshift=27pt]gly15.south}{ct3.west}
\draw[dsh] (ct3.east) -- (cct3.west);
\mytre{[xshift=27pt]ct3.south}{gl1.west}
\mytre{[xshift=27pt]ct3.south}{gl2.west}
\mytre{[xshift=27pt]ct3.south}{gp2.west}
\mytre{[xshift=27pt]gly15.south}{ps3.west}
\mytre{[xshift=27pt]gly15.south}{ul.west}
\mytre{[xshift=27pt]gly15.south}{gt1.west}
\mytre{[xshift=27pt]gly15.south}{gs1.west}
\mytre{[xshift=27pt]gly15.south}{gc1.west}
% GLY250
\mytre{[xshift=-26.5pt]gly250.south}{ggsl.west}
\mytre{[xshift=-26.5pt]gly250.south}{gt2.west}
\mytre{[xshift=-26.5pt]gly250.south}{gs2.west}
\mytre{[xshift=-26.5pt]gly250.south}{gc2.west}
% GLY057
\myscu{gly57.east}{sk4.west}
\myscu{gly57.east}{gp3.west}
\mytre{[xshift=27pt]gly57.south}{ct4.west}
\draw[dsh] (ct4.east) -- (cct4.west);
\mytre{[xshift=27.5pt]ct4.south}{gl3.west}
\mytre{[xshift=27.5pt]ct4.south}{gl4.west}
\mytre{[xshift=27.5pt]ct4.south}{gp4.west}
\mytre{[xshift=27pt]gly57.south}{ps4.west}
\mytre{[xshift=27pt]gly57.south}{gd1.west}
\mytre{[xshift=27pt]gly57.south}{gt3.west}
\mytre{[xshift=27pt]gly57.south}{gs3.west}
\mytre{[xshift=27pt]gly57.south}{gc3.west}
\mytre{[xshift=27pt]gly57.south}{sf1.west}
\mytre{[xshift=27pt]gly57.south}{sd1.west}
\mytre{[xshift=27pt]gly57.south}{ep1.west}
\mytre{[xshift=27pt]gly57.south}{af1.west}
\mytre{[xshift=27pt]gly57.south}{jid.west}
\mytre{[xshift=27pt]gly57.south}{mid.west}
\mytre{[xshift=27pt]gly57.south}{att.west}
\mytre{[xshift=27pt]gly57.south}{mot.west}
% glycan component big
\draw[dsh] (gc4.east) -- (lsf1.west);
\draw[edg] (lsf1.east) -- (gcomp.west);
\mytre{[xshift=-68pt]lsf1.south}{csf.west}
\mytre{[xshift=-68pt]lsf1.south}{cmt.west}
\mytre{gc4.south}{dn.west}
\mytre{gc4.south}{spn1.west}
\mytre{gc4.south}{spn2.west}
\mytre{gc4.south}{spn3.west}
\mytre{gc4.south}{mdb.west}
% glycan type big
\draw[dsh] (gt4.east) -- (dsp.west);
\draw[edg] (dsp.east) -- (ssp.west);
\mytre{gt4.south}{ct5.west}
\draw[dsh] (ct5.east) -- (cct5.west);
\mytre{[xshift=27pt]ct5.south}{gtl.west}
\mytre{[xshift=27pt]ct5.south}{gtc.west}
\mytre{[xshift=27pt]ct5.south}{gp5.west}
\mytre{gt4.south}{ps5.west}
\mytre{gt4.south}{dsl.west}
\mytre{gt4.south}{dgl.west}
\mytre{gt4.south}{gt5.west}
\draw[dsh] (gt6.east) -- (dis.west);
\draw[edg] (dis.east) -- (sac.west);
\draw[dsh] (gt7.east) -- (gsl.west);
\draw[edg] (gsl.east) -- (gli.west);
% structural details
\draw[dsh] (sd2.east) -- (lsf2.west);
\mytre{sd2.south}{neu.west}
\mytre{sd2.south}{sf2.west}
% epitope
\myscu{ep2.east}{gep.west}
\myscu{ep2.east}{gepp.west}
\mytre{[xshift=-26pt]ep2.south}{gd2.west}
\mytre{[xshift=-26pt]ep2.south}{epid.west}
% structural part name
\draw[dsh] (spn4.east) -- (spns.west);
\mytre{[xshift=-60pt]spns.south}{lspn.west}
\mytre{[xshift=-60pt]spns.south}{cspn.west}
\mytre{spn4.south}{pref.west}
\mytre{spn4.south}{ispref.west}
\mytre{spn4.south}{mns.west}
\mytre{spn4.south}{mal.west}
\mytre{spn4.south}{mdb2.west}
% glyco sequence
\draw[dsh] (gs4.east) -- (gcs1.west);
\mytre{[xshift=-26pt]gs4.south}{seq.west}
\mytre{[xshift=-26pt]gs4.south}{cf.west}
\draw[dsh] (gs5.east) -- (gcs2.west);
\draw[dsh] (gs6.east) -- (gcs3.west);
% structural features
\draw[dsh] (sf3.east) -- (lsf3.west);
\mytre{[xshift=1.5pt]sf3.south}{sfs.west}
\end{pgfonlayer}

% =================== EDGE LABELS
\myel[blab]{492}{100}{pacsch:occurInOrganismInReference}
\myel[blab]{495}{171}{pacsch:occurInOrganismInReference}
\myel[blab,rotate=90]{1375}{317}{pacsch:inBioSource}
\myel[glab]{1349}{421}{dct:references}
\myel[blab,rotate=90]{1427}{340}{pacsch:describedInReference}
\myel[blab,rotate=90]{1448}{330}{pacsch:inBioSource}
\myel[glab,rotate=90]{1499}{340}{dct:references}
\myel[blab,rotate=90]{1499}{465}{pacsch:describedInReference}
\myel[blab,rotate=90]{1473}{400}{pacsch:inBioSource}
\myel[glab,rotate=90]{1515}{398}{dct:references}
\myel[blab,rotate=90]{1515}{515}{pacsch:describedInReference}
\myel[blab]{1686}{629}{pacsch:inBioSource}
\myel[glab,rotate=90]{1851}{425}{dct:references}
\myel[blab,rotate=90]{1851}{547}{pacsch:describedInReference}
\myel[blab,rotate=90]{1755}{513}{pacsch:inBioSource}
\myel[blab,rotate=90]{1770}{448}{pacsch:describedInReference}
\myel[glab,rotate=90]{1770}{587}{dct:references}
\myel{699}{558}{pacsch:interactionInReference}
\myel{1028}{1124}{pacsch:interactionInReference}
\myel[rotate=90]{813}{319}{pacsch:interactingMolecule}
\myel[rotate=90]{851}{560}{pacsch:interactingMolecule}
\myel{1300}{45}{glycan:has\_affinity\_to}
\myel{1169}{1145}{glycan:has\_affinity\_to}
\myel{1384}{1159}{pacsch:affinityInReference}
\myel{1497}{1184}{pacsch:affinityInReference}
\myel{1326}{777}{pacsch:hasInteractionWith}
\myel{995}{1034}{pacsch:hasInteractionWith}
% LEC081
\myel{278}{244}{rdf:type}
\myel{277}{267}{rdf:type}
\myel{560}{292}{rdfs:subclassOf}
\myel{254}{327}{ggdsch:conceptType}
\myel{464}{348}{rdf:type}
\myel{461}{388}{rdfs:label}
\myel{470}{430}{rdfs:comment}
\myel{470}{472}{rdfs:seeAlso}
\myel{463}{526}{rdfs:seeAlso}
\myel{264}{552}{skos:inScheme}
\myel[glab]{254}{592}{rdfs:label}
\myel{323}{611}{pacsch:pathogenAdherMolecName}
\myel{320}{666}{pacsch:pathogenAdherMolecType}
\myel{292}{725}{uniprot:scientificName}
\myel{316}{778}{pacsch:pathogenAdherMolecForm}
\myel{452}{831}{rdf:type}
\myel{451}{850}{rdf:type}
\myel{392}{884}{ggdsch:conceptType}
\myel{627}{935}{rdf:type}
\myel{578}{979}{rdfs:label}
\myel{576}{1018}{rdfs:comment}
\myel{574}{1056}{rdfs:seeAlso}
\myel{425}{1096}{skos:inScheme}
\myel{452}{1157}{pacsch:organismForm}
\myel[glab]{422}{1193}{rdfs:label}
\myel{435}{1216}{skos:prefLabel}
\myel{456}{1256}{gmsch:conceptual\_part\_of}
\myel{452}{1321}{gmsch:has\_conceptual\_part}
% LEC232
\myel[glab]{224}{1523}{rdfs:label}
\myel{287}{1538}{pacsch:pathogenAdherMolecName}
\myel{311}{1590}{pacsch:pathogenAdherMolecGenomicName}
\myel{301}{1646}{pacsch:pathogenAdherMolecType}
\myel{272}{1703}{uniprot:scientificName}
\myel{274}{1756}{pacsch:strainName}
\myel{308}{1812}{pacsch:pathogenAdherMolecForm}
\myel{437}{1877}{pacsch:organismForm}
\myel[glab]{371}{1894}{rdfs:label}
\myel{402}{1910}{skos:prefLabel}
\myel{429}{1950}{gmsch:conceptual\_part\_of}
\myel{433}{1991}{gmsch:has\_conceptual\_part}
% IA / INT / AFF
\myel{1025}{408}{rdf:type}
\myel{957}{440}{pacsch:interactionType}
\myel{975}{499}{pacsch:adherenceInteractionType}
\myel{1143}{438}{rdfs:label}
\myel{1118}{488}{rdfs:comment}
\myel{1010}{771}{rdf:type}
\myel{996}{877}{pacsch:interactionType}
\myel{1010}{937}{pacsch:adherenceInteractionType}
\myel{1195}{817}{rdf:type}
\myel{1211}{892}{rdfs:label}
\myel{1213}{924}{rdfs:comment}
\myel{1213}{991}{pacsch:interactionType}
\myel{1230}{1045}{pacsch:adherenceInteractionType}
\myel{1604}{737}{rdf:type}
\myel{1605}{847}{pacsch:interactionType}
\myel{1630}{898}{pacsch:adherenceInteractionType}
\myel{1892}{787}{rdf:type}
\myel{1903}{867}{rdfs:label}
\myel{1896}{893}{rdfs:comment}
\myel{1893}{968}{pacsch:interactionType}
\myel{1908}{1017}{pacsch:adherenceInteractionType}
% GLY015 / GLY250
\myel{1097}{1240}{rdf:type}
\myel{1097}{1261}{rdf:type}
\myel{1094}{1306}{ggdsch:conceptType}
\myel{1288}{1331}{rdf:type}
\myel{1287}{1367}{rdfs:label}
\myel{1284}{1403}{rdfs:comment}
\myel{1293}{1452}{rdfs:seeAlso}
\myel{1102}{1447}{skos:inScheme}
\myel[glab]{1089}{1483}{rdfs:label}
\myel{1145}{1502}{pacsch:carbohydrateLigandName}
\myel{1109}{1549}{pacsch:glycanType}
\myel{1158}{1626}{glycan:has\_glycoconjugate\_sequence}
\myel{1126}{1700}{glycan:has\_component}
\myel{1077}{1855}{pacsch:carbohydrateLigandName}
\myel{1049}{1893}{pacsch:glycanType}
\myel{1103}{1964}{glycan:has\_glycoconjugate\_sequence}
\myel{1065}{2037}{glycan:has\_component}
% GLY057
\myel{1664}{1260}{rdf:type}
\myel{1664}{1281}{rdf:type}
\myel{1664}{1328}{ggdsch:conceptType}
\myel{1854}{1352}{rdf:type}
\myel{1854}{1388}{rdfs:label}
\myel{1850}{1424}{rdfs:comment}
\myel{1859}{1472}{rdfs:seeAlso}
\myel{1668}{1468}{skos:inScheme}
\myel[glab]{1654}{1504}{rdfs:label}
\myel{1715}{1525}{pacsch:carbohydrateLigandName}
\myel{1674}{1570}{pacsch:glycanType}
\myel{1725}{1647}{glycan:has\_glycoconjugate\_sequence}
\myel{1693}{1720}{glycan:has\_component}
\myel{1705}{1870}{pacsch:hasStructuralFeature}
\myel{1705}{1967}{pacsch:hasStructuralDetail}
\myel{1680}{2066}{glycan:has\_epitope}
\myel{1708}{2159}{pacsch:affinityInReference}
\myel{1713}{2279}{pacsch:jcggdbGlycanId}
\myel{1705}{2335}{pacsch:jcggdbMotifId}
\myel{1723}{2392}{glycan:has\_attached\_glycan}
\myel{1698}{2448}{glycan:has\_motif}
% Glycan component big
\myel{1683}{2592}{rdf:type}
\myel{1958}{2592}{rdfs:subclassOf}
\myel{1624}{2627}{rdfs:label}
\myel{1781}{2633}{rdfs:label}
\myel{1767}{2657}{rdfs:comment}
\myel{1675}{2714}{pacsch:hasStructuralPartName}
\myel{1682}{2803}{pacsch:hasStructuralPartName}
\myel{1696}{2887}{pacsch:hasStructuralPartName}
\myel{1614}{2953}{glycan:has\_monosaccharide}
% Glycan type big
\myel{280}{2118}{rdf:type}
\myel{562}{2118}{rdfs:subclassOf}
\myel{237}{2160}{ggdsch:conceptType}
\myel{492}{2174}{rdf:type}
\myel{489}{2208}{rdfs:label}
\myel{482}{2247}{rdfs:comment}
\myel{494}{2292}{rdfs:seeAlso}
\myel{278}{2314}{skos:inScheme}
\myel{277}{2364}{rdfs:label}
\myel{277}{2415}{skos:altLabel}
\myel{277}{2470}{skos:broader}
\myel{280}{2551}{rdf:type}
\myel{537}{2551}{rdfs:subclassOf}
\myel{280}{2621}{rdf:type}
\myel{537}{2621}{rdfs:subclassOf}
% structural details / epitope
\myel{269}{2721}{rdf:type}
\myel{234}{2756}{pacsch:structuralDetail}
\myel{224}{2795}{pacsch:broaderStructuralFeature}
\myel{252}{2903}{rdf:type}
\myel{259}{2923}{rdf:type}
\myel{222}{2982}{pacsch:epitopeName}
\myel{224}{3012}{pacsch:epitopeID}
% structural part name
\myel{785}{2714}{rdf:type}
\myel{904}{2753}{rdfs:label}
\myel{900}{2776}{rdfs:comment}
\myel{753}{2823}{skos:prefLabel}
\myel{780}{2856}{pacsch:isPreferredName}
\myel{758}{2905}{glycan:has\_monosaccharide\_notation\_scheme}
\myel{751}{2940}{owl:sameAs}
\myel{754}{3003}{rdfs:seeAlso}
% glyco sequence / structural features
\myel{1090}{2184}{rdf:type}
\myel{1000}{2213}{glycan:has\_sequence}
\myel{1014}{2266}{glycan:in\_carbohydrate\_format}
\myel{1090}{2373}{rdf:type}
\myel{1090}{2438}{rdf:type}
\myel{1061}{2556}{rdf:type}
\myel{1012}{2586}{pacsch:structuralFeature}
\end{tikzpicture}
\end{document}
